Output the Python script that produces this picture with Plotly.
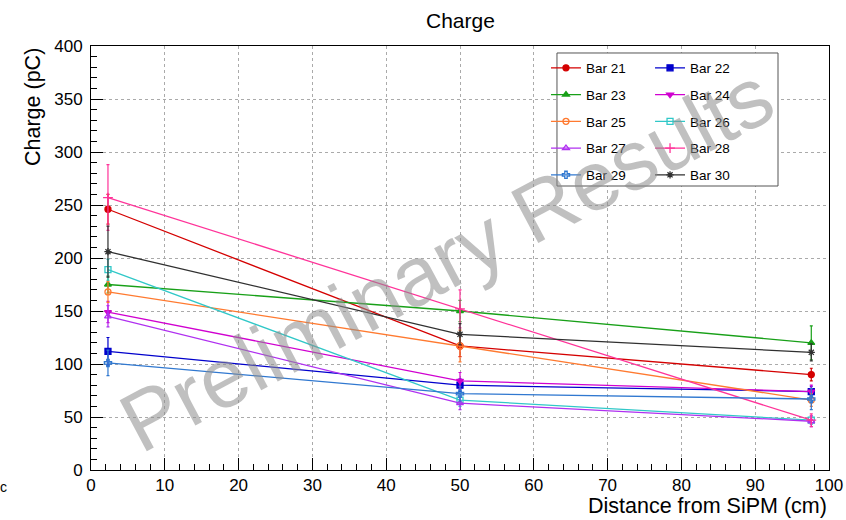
import plotly.graph_objects as go

# Data
distance = [2.3, 50, 97.6]
bar_names = ["Bar 21", "Bar 22", "Bar 23", "Bar 24", "Bar 25",
             "Bar 26", "Bar 27", "Bar 28", "Bar 29", "Bar 30"]
bar21 = [246, 117, 90]
bar22 = [112, 80, 74]
bar23 = [175, 150, 120]
bar24 = [149, 84, 74]
bar25 = [168, 117, 66]
bar26 = [189, 66, 47]
bar27 = [145, 63, 46]
bar28 = [257, 152, 47]
bar29 = [101, 72, 67]
bar30 = [206, 128, 111]
err21 = [14, 10, 6]
err22 = [13, 6, 5]
err23 = [8, 10, 16]
err24 = [10, 8, 6]
err25 = [10, 15, 6]
err26 = [10, 6, 4]
err27 = [10, 6, 5]
err28 = [31, 18, 6]
err29 = [12, 7, 10]
err30 = [24, 10, 8]

values = [bar21, bar22, bar23, bar24, bar25, bar26, bar27, bar28, bar29, bar30]
errors = [err21, err22, err23, err24, err25, err26, err27, err28, err29, err30]
colors = ["#d40000", "#0000cc", "#18a018", "#d000d0", "#ff7a30",
          "#30c8c8", "#b030f0", "#ff3399", "#3078d0", "#303030"]
symbols = ["circle", "square", "triangle-up", "triangle-down", "circle-open",
           "square-open", "triangle-up-open", "cross-thin-open", "cross-open", "asterisk-open"]
sizes = [6, 6, 6, 6, 6, 6, 6, 7, 6, 6]

FONT = "Liberation Sans, Arial, Helvetica, sans-serif"

fig = go.Figure()
for i, (name, y, e, c, s, sz) in enumerate(zip(bar_names, values, errors, colors, symbols, sizes)):
    fig.add_trace(go.Scatter(
        x=distance, y=y, name=name, mode="lines+markers",
        legend="legend" if i % 2 == 0 else "legend2",
        legendgroup=name,
        line=dict(color=c, width=1.3),
        marker=dict(symbol=s, size=sz, color=c, line=dict(color=c, width=1.3)),
        error_y=dict(type="data", array=e, color=c, thickness=1.2, width=1.5),
    ))

# legend frame
fig.add_shape(type="rect", xref="paper", yref="paper",
              x0=0.6314, x1=0.9309, y0=0.6698, y1=0.9835,
              line=dict(color="#555555", width=1), fillcolor="white", layer="above")

fig.add_annotation(
    text="Preliminary Results", xref="paper", yref="paper",
    x=0.482, y=0.497, xanchor="center", yanchor="middle",
    textangle=-28, showarrow=False,
    font=dict(family=FONT, size=84, color="rgba(140,140,140,0.55)"),
)

fig.add_annotation(
    text="Charge", xref="paper", yref="paper", x=0.5, y=1.0,
    yshift=26, xanchor="center", yanchor="middle", showarrow=False,
    font=dict(family=FONT, size=21, color="black"),
)
fig.add_annotation(
    text="Charge (pC)", xref="paper", yref="paper", x=0, xshift=-58,
    y=1.0, xanchor="center", yanchor="top", textangle=-90, showarrow=False,
    font=dict(family=FONT, size=21.5, color="black"),
)
fig.add_annotation(
    text="Distance from SiPM (cm)", xref="paper", yref="paper", x=1.0, y=0,
    yshift=-22, xanchor="right", yanchor="top", showarrow=False,
    font=dict(family=FONT, size=21.5, color="black"),
)
fig.add_annotation(
    text="c", xref="paper", yref="paper", x=0, xshift=-93, y=0, yshift=-17,
    xanchor="left", yanchor="middle", showarrow=False,
    font=dict(family=FONT, size=14, color="black"),
)

legend_common = dict(
    orientation="v", xanchor="left", yanchor="top", itemwidth=30,
    bgcolor="rgba(0,0,0,0)", borderwidth=0, tracegroupgap=6.2,
    font=dict(family=FONT, size=13.5, color="black"),
)

fig.update_layout(
    width=846, height=520,
    margin=dict(l=91, r=17, t=46, b=50, autoexpand=False),
    paper_bgcolor="white", plot_bgcolor="white",
    font=dict(family=FONT, size=17, color="black"),
    showlegend=True,
    legend=dict(x=0.6165, y=0.9845, **legend_common),
    legend2=dict(x=0.7575, y=0.9845, **legend_common),
)
fig.update_xaxes(
    range=[0, 100], dtick=10, tick0=0, automargin=False,
    ticks="inside", ticklen=12, tickcolor="black",
    showline=True, linecolor="black", linewidth=1, mirror=True,
    showgrid=True, gridcolor="#aaaaaa", griddash="dot", gridwidth=1,
    zeroline=False,
    minor=dict(dtick=2, ticks="inside", ticklen=6, tickcolor="black", showgrid=False),
    tickfont=dict(family=FONT, size=17),
)
fig.update_yaxes(
    range=[0, 400], dtick=50, tick0=0, automargin=False,
    ticks="inside", ticklen=12, tickcolor="black",
    showline=True, linecolor="black", linewidth=1, mirror=True,
    showgrid=True, gridcolor="#aaaaaa", griddash="dot", gridwidth=1,
    zeroline=False,
    minor=dict(dtick=10, ticks="inside", ticklen=6, tickcolor="black", showgrid=False),
    tickfont=dict(family=FONT, size=17),
    ticklabelstandoff=4,
)

fig.write_html("out.html")
